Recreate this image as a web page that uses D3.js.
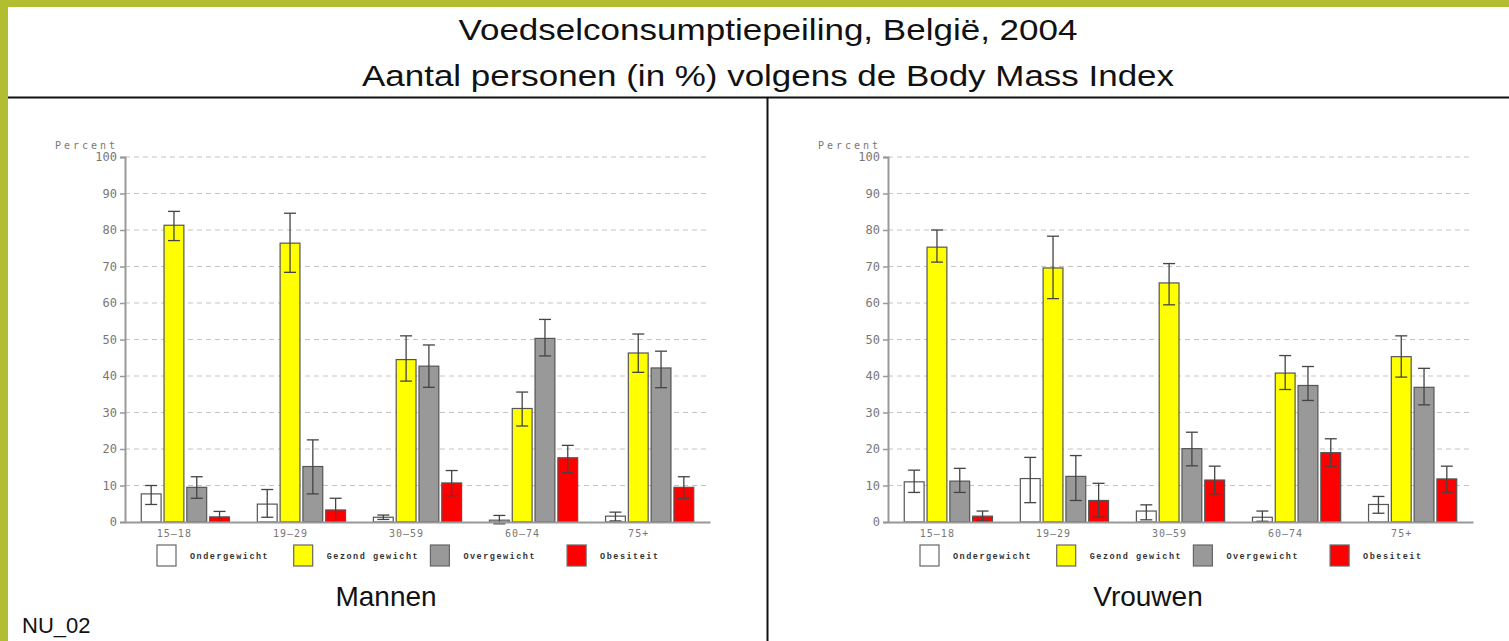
<!DOCTYPE html>
<html>
<head>
<meta charset="utf-8">
<script src="https://cdn.jsdelivr.net/npm/d3@7"></script>
<style>
  body { margin: 0; background: #fff; }
  .tick-label { font-family: "DejaVu Sans Mono", monospace; fill: #777; }
  .legend-label { font-family: "Liberation Mono", monospace; fill: #333; font-weight: bold; }
</style>
</head>
<body>
<div id="chart"></div>
<script>
// age groups and BMI classes
const ageGroups = ["15–18", "19–29", "30–59", "60–74", "75+"];
const bmiClasses = ["Ondergewicht", "Gezond gewicht", "Overgewicht", "Obesiteit"];
const bmiColors = ["#ffffff", "#ffff00", "#999999", "#ff0000"];
const yTicks = [0, 10, 20, 30, 40, 50, 60, 70, 80, 90, 100];

// Mannen: percentage per class (rows) and age group (columns)
const mannenWaarde = [
  [7.7, 4.9, 1.3, 0.5, 1.6],
  [81.3, 76.4, 44.5, 31.1, 46.3],
  [9.5, 15.2, 42.7, 50.3, 42.2],
  [1.4, 3.3, 10.7, 17.6, 9.5]
];
const mannenLaag = [
  [4.8, 1.3, 0.7, -0.5, 0.3],
  [77.1, 68.4, 38.6, 26.3, 41.0],
  [6.5, 7.7, 36.9, 45.5, 36.8],
  [0.0, 0.0, 7.2, 13.5, 6.5]
];
const mannenHoog = [
  [10.0, 8.9, 1.9, 1.8, 2.7],
  [85.1, 84.6, 51.0, 35.6, 51.5],
  [12.4, 22.5, 48.5, 55.5, 46.8],
  [2.9, 6.5, 14.1, 21.0, 12.4]
];

// Vrouwen
const vrouwenWaarde = [
  [11.0, 11.9, 3.0, 1.3, 4.8],
  [75.3, 69.6, 65.5, 40.8, 45.3],
  [11.2, 12.5, 20.1, 37.4, 36.9],
  [1.6, 5.9, 11.5, 19.0, 11.8]
];
const vrouwenLaag = [
  [8.1, 5.3, 0.6, 0.2, 2.4],
  [71.2, 61.2, 59.5, 36.3, 39.7],
  [8.1, 5.9, 15.4, 33.3, 32.1],
  [0.3, 1.3, 7.7, 15.3, 8.2]
];
const vrouwenHoog = [
  [14.2, 17.7, 4.7, 3.0, 7.0],
  [80.0, 78.3, 70.8, 45.6, 51.0],
  [14.7, 18.2, 24.6, 42.6, 42.1],
  [3.0, 10.6, 15.3, 22.8, 15.3]
];

const W = 1509, H = 641;
const svg = d3.select("#chart").append("svg")
  .attr("width", W)
  .attr("height", H)
  .style("font-family", "'Liberation Sans', Arial, sans-serif");

// green frame
svg.append("rect").attr("x", 0).attr("y", 0).attr("width", W).attr("height", 7).attr("fill", "#b2be2f");
svg.append("rect").attr("x", 0).attr("y", 0).attr("width", 8).attr("height", H).attr("fill", "#b2be2f");

// titles (the original font runs wider than Arial, so stretch them)
svg.append("text").attr("x", 768).attr("y", 40).attr("text-anchor", "middle")
  .style("font-size", "29px").attr("fill", "#111")
  .attr("textLength", 619).attr("lengthAdjust", "spacingAndGlyphs")
  .text("Voedselconsumptiepeiling, België, 2004");
svg.append("text").attr("x", 768).attr("y", 86).attr("text-anchor", "middle")
  .style("font-size", "29px").attr("fill", "#111")
  .attr("textLength", 812).attr("lengthAdjust", "spacingAndGlyphs")
  .text("Aantal personen (in %) volgens de Body Mass Index");

// dividers
svg.append("line").attr("x1", 8).attr("x2", W).attr("y1", 97.5).attr("y2", 97.5)
  .attr("stroke", "#111").attr("stroke-width", 2);
svg.append("line").attr("x1", 767.5).attr("x2", 767.5).attr("y1", 97.5).attr("y2", H)
  .attr("stroke", "#111").attr("stroke-width", 2);

svg.append("text").attr("x", 22).attr("y", 633)
  .style("font-size", "22px").attr("fill", "#111").text("NU_02");

function panel(left, centerX, title, waarde, laag, hoog) {
  const right = left + 585;
  const y = d3.scaleLinear().domain([0, 100]).range([522, 157]);
  const x0 = d3.scaleBand().domain(ageGroups).range([left, right])
    .paddingInner(0.24).paddingOuter(0.14);
  const x1 = d3.scaleBand().domain(bmiClasses).range([0, x0.bandwidth()])
    .paddingInner(0.13);

  const g = svg.append("g");

  // grid lines
  g.selectAll(".grid").data(yTicks.filter(d => d > 0)).enter()
    .append("line")
    .attr("x1", left).attr("x2", right)
    .attr("y1", d => y(d)).attr("y2", d => y(d))
    .attr("stroke", "#c4c4c4").attr("stroke-dasharray", "5,4");

  // y axis
  const yAxis = g.append("g")
    .attr("transform", "translate(" + left + ",0)")
    .call(d3.axisLeft(y).tickValues(yTicks).tickSize(5).tickPadding(3));
  yAxis.select(".domain").attr("stroke", "#999").attr("stroke-width", 2);
  yAxis.selectAll(".tick line").attr("stroke", "#999").attr("stroke-width", 1.5);
  yAxis.selectAll(".tick text").attr("class", "tick-label")
    .style("font-size", "12px").attr("fill", "#777");

  g.append("text").attr("class", "tick-label")
    .attr("x", left - 70).attr("y", 149)
    .style("font-size", "10px").style("letter-spacing", "3px")
    .text("Percent");

  // bars
  const groups = g.selectAll(".age").data(ageGroups).enter()
    .append("g")
    .attr("transform", d => "translate(" + x0(d) + ",0)");

  groups.selectAll("rect")
    .data((a, i) => bmiClasses.map((c, k) => ({ c: c, k: k, v: waarde[k][i] })))
    .enter().append("rect")
    .attr("x", d => x1(d.c))
    .attr("y", d => y(d.v))
    .attr("width", x1.bandwidth())
    .attr("height", d => y(0) - y(d.v))
    .attr("fill", d => bmiColors[d.k])
    .attr("stroke", "#555").attr("stroke-width", 1.2);

  // error bars
  const err = groups.selectAll(".err")
    .data((a, i) => bmiClasses.map((c, k) => ({ c: c, lo: laag[k][i], hi: hoog[k][i] })))
    .enter().append("g")
    .attr("transform", d => "translate(" + (x1(d.c) + x1.bandwidth() / 2) + ",0)")
    .attr("stroke", "#444").attr("stroke-width", 1.3);
  err.append("line").attr("y1", d => y(d.lo)).attr("y2", d => y(d.hi));
  err.append("line").attr("x1", -6).attr("x2", 6).attr("y1", d => y(d.hi)).attr("y2", d => y(d.hi));
  err.append("line").attr("x1", -6).attr("x2", 6).attr("y1", d => y(d.lo)).attr("y2", d => y(d.lo));

  // baseline and x axis
  const xAxis = g.append("g")
    .attr("transform", "translate(0," + y(0) + ")")
    .call(d3.axisBottom(x0).tickSize(0).tickPadding(8));
  xAxis.select(".domain").attr("stroke", "#999").attr("stroke-width", 2);
  xAxis.selectAll(".tick text").attr("class", "tick-label")
    .attr("dx", "-11px")
    .style("font-size", "10px").style("letter-spacing", "1px").attr("fill", "#777");

  // legend
  const legend = g.selectAll(".legend").data(bmiClasses).enter()
    .append("g")
    .attr("transform", (d, i) => "translate(" + (left + 32 + i * 136.7) + ",545)");
  legend.append("rect")
    .attr("width", 19).attr("height", 21)
    .attr("fill", (d, i) => bmiColors[i])
    .attr("stroke", "#666").attr("stroke-width", 1.2);
  legend.append("text").attr("class", "legend-label")
    .attr("x", 33).attr("y", 14)
    .style("font-size", "8.5px").style("letter-spacing", "1.5px")
    .text(d => d);

  svg.append("text").attr("x", centerX).attr("y", 606).attr("text-anchor", "middle")
    .style("font-size", "28px").attr("fill", "#111").text(title);
}

panel(125, 386, "Mannen", mannenWaarde, mannenLaag, mannenHoog);
panel(888, 1148, "Vrouwen", vrouwenWaarde, vrouwenLaag, vrouwenHoog);
</script>
</body>
</html>
